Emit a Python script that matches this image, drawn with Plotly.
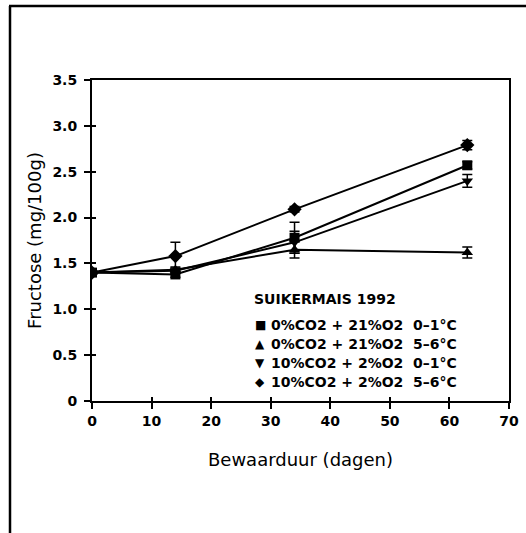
import plotly.graph_objects as go

days = [0, 14, 34, 63]

sq_vals = [1.40, 1.38, 1.78, 2.57]
sq_err = [0.03, 0.03, 0.17, 0.04]
tu_vals = [1.40, 1.43, 1.65, 1.62]
tu_err = [0.03, 0.03, 0.09, 0.06]
td_vals = [1.40, 1.42, 1.73, 2.40]
td_err = [0.03, 0.03, 0.12, 0.07]
di_vals = [1.40, 1.58, 2.09, 2.79]
di_err = [0.03, 0.15, 0.03, 0.05]

series = [
    ("0%CO2 + 21%O2", "0–1°C", "square", sq_vals, sq_err, "■"),
    ("0%CO2 + 21%O2", "5–6°C", "triangle-up", tu_vals, tu_err, "▲"),
    ("10%CO2 + 2%O2", "0–1°C", "triangle-down", td_vals, td_err, "▼"),
    ("10%CO2 + 2%O2", "5–6°C", "diamond", di_vals, di_err, "◆"),
]

legend_title = "SUIKERMAIS 1992"
x_ticks = [0, 10, 20, 30, 40, 50, 60, 70]
y_ticks = [0, 0.5, 1.0, 1.5, 2.0, 2.5, 3.0, 3.5]
y_ticklabels = ["0", "0.5", "1.0", "1.5", "2.0", "2.5", "3.0", "3.5"]

FONT = "DejaVu Sans, Liberation Sans, sans-serif"

fig = go.Figure()
sizes = {"square": 10, "triangle-up": 10, "triangle-down": 10, "diamond": 11}
for name, temp, sym, vals, err, glyph in series:
    fig.add_trace(go.Scatter(
        x=days, y=vals, mode="lines+markers", name=f"{name} {temp}",
        line=dict(color="black", width=2),
        marker=dict(symbol=sym, size=sizes[sym], color="black"),
        error_y=dict(type="data", array=err, color="black", thickness=1.5, width=5),
        showlegend=False,
    ))

W0, W1 = 92, 509
T0, B0 = 80, 401
def px(x):
    return (x - W0) / (W1 - W0)
def py(y):
    return (B0 - y) / (B0 - T0)

ann = [dict(x=px(252), y=py(299), xref="paper", yref="paper", text=legend_title,
            showarrow=False, xanchor="left", yanchor="middle",
            font=dict(family=FONT, size=14, color="black", weight="bold"))]
rows_y = [325, 344, 363, 382]
for (name, temp, sym, vals, err, glyph), ry in zip(series, rows_y):
    ann.append(dict(x=px(253), y=py(ry), xref="paper", yref="paper", text=glyph,
                    showarrow=False, xanchor="left", yanchor="middle",
                    font=dict(family="DejaVu Sans", size=12, color="black")))
    ann.append(dict(x=px(269), y=py(ry), xref="paper", yref="paper", text=name,
                    showarrow=False, xanchor="left", yanchor="middle",
                    font=dict(family=FONT, size=14, color="black", weight="bold")))
    ann.append(dict(x=px(411), y=py(ry), xref="paper", yref="paper", text=temp,
                    showarrow=False, xanchor="left", yanchor="middle",
                    font=dict(family=FONT, size=14, color="black", weight="bold")))

fig.update_layout(
    width=526, height=533,
    margin=dict(l=W0, r=526 - W1, t=T0, b=533 - B0, autoexpand=False),
    paper_bgcolor="white", plot_bgcolor="white",
    font=dict(family=FONT, color="black"),
    annotations=ann,
    showlegend=False,
    xaxis=dict(range=[0, 70], tickvals=x_ticks, ticks="outside", ticklen=6,
               tickwidth=1.5, tickcolor="black", showline=True, linecolor="black",
               linewidth=2, mirror=True, showgrid=False, zeroline=False,
               tickfont=dict(family=FONT, size=14, color="black", weight="bold"),
               title=dict(text="Bewaarduur (dagen)", font=dict(family=FONT, size=18),
                          standoff=26)),
    yaxis=dict(range=[0, 3.5], tickvals=y_ticks, ticktext=y_ticklabels, ticks="outside",
               ticklen=6, tickwidth=1.5, tickcolor="black", showline=True,
               linecolor="black", linewidth=2, mirror=True, showgrid=False,
               zeroline=False, ticklabelstandoff=4,
               tickfont=dict(family=FONT, size=14, color="black", weight="bold"),
               title=dict(text="Fructose (mg/100g)", font=dict(family=FONT, size=18),
                          standoff=6)),
    xaxis2=dict(range=[0, 70], tickvals=x_ticks, ticks="inside", ticklen=4,
                tickwidth=1.5, tickcolor="black", overlaying="x", showticklabels=False,
                showgrid=False, zeroline=False, showline=False),
    yaxis2=dict(range=[0, 3.5], tickvals=y_ticks, ticks="inside", ticklen=4,
                tickwidth=1.5, tickcolor="black", overlaying="y", showticklabels=False,
                showgrid=False, zeroline=False, showline=False),
)
fig.add_trace(go.Scatter(x=[None], y=[None], xaxis="x2", yaxis="y2", showlegend=False,
                         hoverinfo="skip"))

# page frame (left and top edges)
fig.add_shape(type="line", xref="paper", yref="paper", x0=px(10), x1=px(10),
              y0=py(6), y1=py(540), line=dict(color="black", width=2.5))
fig.add_shape(type="line", xref="paper", yref="paper", x0=px(9), x1=px(530),
              y0=py(6), y1=py(6), line=dict(color="black", width=2.5))

fig.write_html("out.html", config={"displayModeBar": False},
               post_script="document.body.style.margin='0px';")
